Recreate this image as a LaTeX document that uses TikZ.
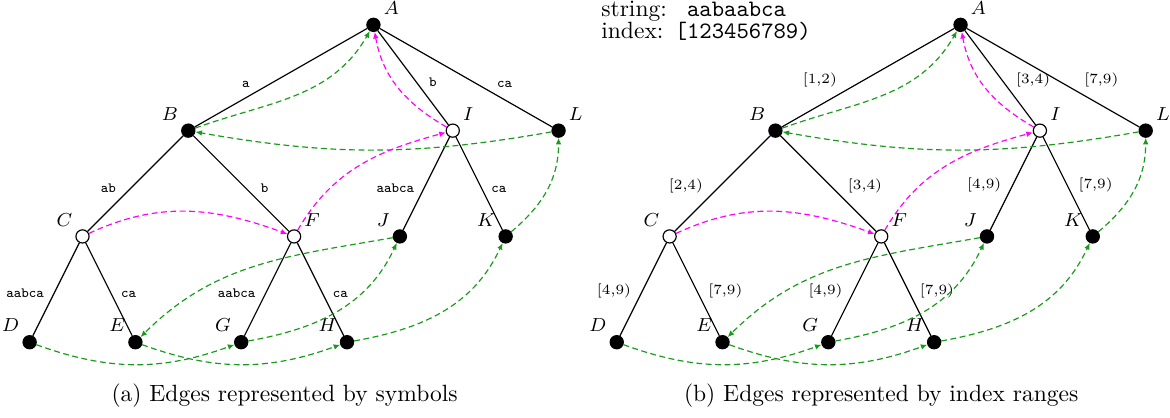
\documentclass[tikz,border=0pt]{standalone}
\usepackage{fontspec}
\usetikzlibrary{arrows.meta}

\begin{document}
\begin{tikzpicture}[x=0.79cm, y=0.79cm]

% ---------------------------------------------------------------- colours
\definecolor{linkgreen}{HTML}{1A9A1A}   % leaf chain
\definecolor{linkpink}{HTML}{FF00FF}    % suffix links

% ================================================================
% Geometry, in units of 0.79cm.
%
%   leaves D E G H on y = 0, x = 0, 2, 4, 6
%   C F J K on y = 2, x = 1, 5, 7, 9
%   B I L on y = 4, x = 3, 8, 10; root A at (6.5, 6)
%   second tree is the same tree moved right by \gap
%   captions sit on a baseline at y = -1.13
% ================================================================

\def\gap{11.1}

\useasboundingbox (-0.56, -1.415) rectangle (21.56, 6.47);

\tikzset{
    treenode/.style={
        circle, draw=black, line width=0.5pt,
        minimum size=5.6pt, inner sep=0pt,
    },
    namelbl/.style={font=\fontsize{8}{10}\selectfont, inner sep=1.5pt,
        label distance=0.8pt},
    treeedge/.style={draw=black, line width=0.5pt},
    edgelbl/.style={font=\fontsize{6}{7}\selectfont, inner sep=2pt},
    leaflink/.style={
        draw=linkgreen, line width=0.5pt, dash pattern=on 2.5pt off 1.5pt,
        -{Latex[length=2.8pt, width=2.4pt]},
    },
    sufflink/.style={leaflink, draw=linkpink},
    caption/.style={font=\fontsize{10}{12}\selectfont, anchor=base},
}

% ---------------------------------------------------------------- the nodes
\foreach \tr/\dx in {a/0, b/\gap} {
    \foreach \n/\x/\y/\f/\ang in {A/6.5/6/black/45, B/3/4/black/135,
            I/8/4/white/45, L/10/4/black/45, C/1/2/white/135,
            F/5/2/white/45, J/7/2/black/135, K/9/2/black/135,
            D/0/0/black/135, E/2/0/black/135, G/4/0/black/135,
            H/6/0/black/135} {
        \pgfmathsetmacro{\xx}{\x+\dx}
        \node[treenode, fill=\f, label={[namelbl]\ang:$\n$}] (\tr\n) at (\xx, \y) {};
    }
}

% ---------------------------------------------------------------- edges, by symbols
\foreach \pa/\ch/\s/\an in {A/B/a/south east, A/I/b/south west,
        A/L/ca/south west, B/C/ab/south east, B/F/b/south west,
        I/J/aabca/south east, I/K/ca/south west, C/D/aabca/south east,
        C/E/ca/south west, F/G/aabca/south east, F/H/ca/south west}
    \draw[treeedge] (a\pa) -- node[edgelbl, pos=0.65, anchor=\an] {\texttt{\s}} (a\ch);

% ---------------------------------------------------------------- edges, by ranges
\foreach \pa/\ch/\s/\an in {A/B/{[1,2)}/south east, A/I/{[3,4)}/south west,
        A/L/{[7,9)}/south west, B/C/{[2,4)}/south east, B/F/{[3,4)}/south west,
        I/J/{[4,9)}/south east, I/K/{[7,9)}/south west, C/D/{[4,9)}/south east,
        C/E/{[7,9)}/south west, F/G/{[4,9)}/south east, F/H/{[7,9)}/south west}
    \draw[treeedge] (b\pa) -- node[edgelbl, pos=0.65, anchor=\an] {\s} (b\ch);

% ---------------------------------------------------------------- links
\foreach \tr in {a,b} {
    \foreach \u/\v/\o/\i in {D/G/-20/200, E/H/-20/200, G/J/10/245,
            H/K/10/245, J/E/190/45, K/L/40/-90, L/B/190/-10, B/A/20/240}
        \draw[leaflink] (\tr\u) to[out=\o, in=\i] (\tr\v);
    \foreach \u/\v/\o/\i in {C/F/25/160, F/I/60/195, I/A/150/-80}
        \draw[sufflink] (\tr\u) to[out=\o, in=\i] (\tr\v);
}

% ---------------------------------------------------------------- text
\node[anchor=base west, inner sep=0pt] (strtab) at (10.8, 6.15)
    {\begin{tabular}[t]{@{}l@{\ }l@{}}
        string: & \texttt{\ aabaabca}\\[-3pt]
        index:  & \texttt{[123456789)}
    \end{tabular}};

\node[caption] (capa) at (4.82, -1.13) {(a) Edges represented by symbols};
\node[caption] (capb) at (16.1, -1.13) {(b) Edges represented by index ranges};

\end{tikzpicture}
\end{document}
